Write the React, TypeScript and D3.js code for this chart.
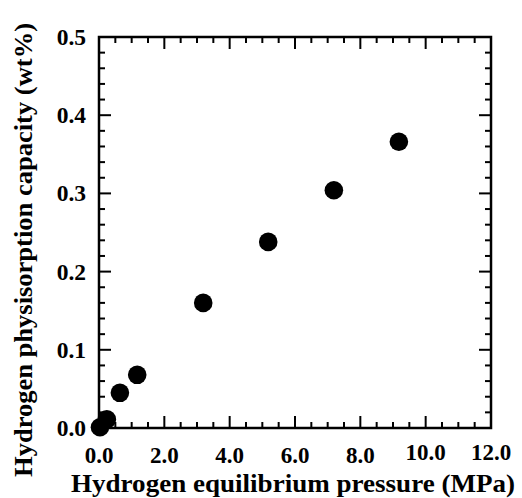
import { useEffect, useRef } from 'react';
import * as d3 from 'd3';

const pressure = [0.03, 0.24, 0.64, 1.17, 3.19, 5.18, 7.19, 9.18];
const capacity = [0.001, 0.011, 0.045, 0.068, 0.160, 0.238, 0.304, 0.366];
const xTicks = [0, 2, 4, 6, 8, 10, 12];
const yTicks = [0, 0.1, 0.2, 0.3, 0.4, 0.5];

const W = 522;
const H = 498;
const FONT = '"Liberation Serif", "Times New Roman", serif';

export default function App() {
  const svgRef = useRef<SVGSVGElement>(null);

  useEffect(() => {
    const margin = { top: 37, right: 31, bottom: 70, left: 99 };
    const width = W - margin.left - margin.right;
    const height = H - margin.top - margin.bottom;

    const root = d3.select(svgRef.current);
    root.selectAll('*').remove();

    const svg = root.append('g')
      .attr('transform', `translate(${margin.left},${margin.top})`);

    const x = d3.scaleLinear().domain([0, 12]).range([0, width]);
    const y = d3.scaleLinear().domain([0, 0.5]).range([height, 0]);

    const xMinor = d3.range(0, 12.001, 0.5);
    const yMinor = d3.range(0, 0.5001, 0.02);
    const isMajorX = (v: number) => Math.abs(v / 2 - Math.round(v / 2)) < 1e-6;
    const isMajorY = (v: number) => Math.abs(v * 10 - Math.round(v * 10)) < 1e-6;

    const ticks = svg.append('g')
      .attr('stroke', '#000')
      .attr('stroke-width', 2);

    // inward ticks on all four sides
    xMinor.forEach(v => {
      const len = isMajorX(v) ? 12 : 6;
      ticks.append('line').attr('x1', x(v)).attr('x2', x(v))
        .attr('y1', height).attr('y2', height - len);
      ticks.append('line').attr('x1', x(v)).attr('x2', x(v))
        .attr('y1', 0).attr('y2', len);
    });
    yMinor.forEach(v => {
      const len = isMajorY(v) ? 12 : 6;
      ticks.append('line').attr('y1', y(v)).attr('y2', y(v))
        .attr('x1', 0).attr('x2', len);
      ticks.append('line').attr('y1', y(v)).attr('y2', y(v))
        .attr('x1', width).attr('x2', width - len);
    });

    svg.append('rect')
      .attr('width', width)
      .attr('height', height)
      .attr('fill', 'none')
      .attr('stroke', '#000')
      .attr('stroke-width', 2.5);

    svg.selectAll('.pt')
      .data(pressure.map((p, i) => ({ p, c: capacity[i] })))
      .enter()
      .append('circle')
      .attr('class', 'pt')
      .attr('cx', d => x(d.p))
      .attr('cy', d => y(d.c))
      .attr('r', 9.3)
      .attr('fill', '#000');

    svg.selectAll('.xlab')
      .data(xTicks)
      .enter()
      .append('text')
      .attr('class', 'xlab')
      .attr('x', d => x(d))
      .attr('y', d => height + (d >= 10 ? 32 : 35))
      .attr('text-anchor', 'middle')
      .style('font-family', FONT)
      .style('font-weight', 'bold')
      .style('font-size', '23px')
      .text(d => d.toFixed(1));

    svg.selectAll('.ylab')
      .data(yTicks)
      .enter()
      .append('text')
      .attr('class', 'ylab')
      .attr('x', -13)
      .attr('y', d => y(d))
      .attr('dy', '0.34em')
      .attr('text-anchor', 'end')
      .style('font-family', FONT)
      .style('font-weight', 'bold')
      .style('font-size', '23.5px')
      .text(d => d.toFixed(1));

    svg.append('text')
      .attr('x', 194)
      .attr('y', height + 64)
      .attr('text-anchor', 'middle')
      .attr('textLength', 444)
      .attr('lengthAdjust', 'spacingAndGlyphs')
      .style('font-family', FONT)
      .style('font-weight', 'bold')
      .style('font-size', '26px')
      .text('Hydrogen equilibrium pressure (MPa)');

    svg.append('text')
      .attr('transform', 'rotate(-90)')
      .attr('x', -(250 - margin.top))
      .attr('y', 32 - margin.left)
      .attr('text-anchor', 'middle')
      .attr('textLength', 454)
      .attr('lengthAdjust', 'spacingAndGlyphs')
      .style('font-family', FONT)
      .style('font-weight', 'bold')
      .style('font-size', '26px')
      .text('Hydrogen physisorption capacity (wt%)');
  }, []);

  return (
    <svg
      ref={svgRef}
      width={W}
      height={H}
      style={{ position: 'absolute', left: 0, top: 0, background: '#fff' }}
    />
  );
}
